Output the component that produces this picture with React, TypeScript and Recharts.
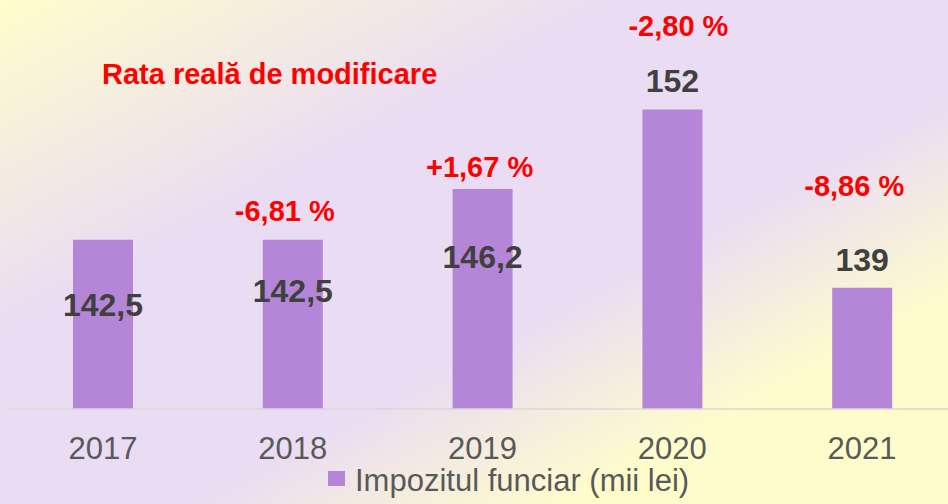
import React from "react";
import { BarChart, Bar, XAxis, YAxis, Legend, LabelList } from "recharts";

const years = ["2017", "2018", "2019", "2020", "2021"];
const values = [142.5, 142.5, 146.2, 152, 139];
const changes = ["", "-6,81 %", "+1,67 %", "-2,80 %", "-8,86 %"];
const seriesName = "Impozitul funciar (mii lei)";
const title = "Rata reală de modificare";

// hand placed labels, centre offset from bar top (px)
const valueShift = [65, 51, 67, -29, -28];
const changeShift = [0, -29.5, -22, -84.5, -102];
const changeDx = [0, -8, -3, 6, -8];

const data = years.map((year, i) => ({ year, value: values[i], change: changes[i] }));

const FONT = "'Liberation Sans', Arial, sans-serif";

const ValueLabel = (props: any) => {
  const { x, y, width, value, index } = props;
  const cy = Number(y) + valueShift[index];
  return (
    <text
      x={Number(x) + Number(width) / 2}
      y={cy + 11.5}
      textAnchor="middle"
      fontFamily={FONT}
      fontSize={32}
      fontWeight="bold"
      fill="#404040"
    >
      {String(value).replace(".", ",")}
    </text>
  );
};

const ChangeLabel = (props: any) => {
  const { x, y, width, value, index } = props;
  if (!value) return null;
  const cy = Number(y) + changeShift[index];
  return (
    <text
      x={Number(x) + Number(width) / 2 + changeDx[index]}
      y={cy + 10.4}
      textAnchor="middle"
      fontFamily={FONT}
      fontSize={29}
      fontWeight="bold"
      fill="#FF0000"
    >
      {value}
    </text>
  );
};

const YearTick = (props: any) => {
  const { x, y, payload } = props;
  return (
    <text x={x} y={y + 42} textAnchor="middle" fontFamily={FONT} fontSize={31} fill="#595959">
      {payload.value}
    </text>
  );
};

const LegendBox = () => (
  <div style={{ position: "relative", height: 40, fontFamily: FONT }}>
    <div style={{ position: "absolute", left: 328, top: 7, width: 17, height: 15, background: "#B586D8" }} />
    <span
      style={{ position: "absolute", left: 355, top: 1, fontSize: 31, lineHeight: "31px", color: "#595959", whiteSpace: "nowrap" }}
    >
      {seriesName}
    </span>
  </div>
);

export default function App() {
  return (
    <div
      style={{
        position: "absolute",
        left: 0,
        top: 0,
        width: 948,
        height: 504,
        overflow: "hidden",
        background:
          "linear-gradient(to bottom right, #FFFDCC 0%, #EADCF3 33%, #EADCF3 60%, #FFFCCC 80%, #FFFCCC 100%)",
      }}
    >
      <div
        style={{
          position: "absolute",
          left: 102,
          top: 59.5,
          fontFamily: FONT,
          fontSize: 29,
          lineHeight: "29px",
          fontWeight: "bold",
          color: "#FF0000",
          whiteSpace: "nowrap",
          zIndex: 2,
        }}
      >
        {title}
      </div>
      <BarChart width={957} height={504} data={data} margin={{ top: 0, right: 0, left: 8, bottom: 0 }}>
        <XAxis
          dataKey="year"
          height={55}
          tickLine={false}
          axisLine={{ stroke: "#D9D9D9", strokeWidth: 1.5 }}
          tick={<YearTick />}
          interval={0}
        />
        <YAxis hide domain={[130.15, 160]} />
        <Legend
          verticalAlign="bottom"
          height={40}
          content={<LegendBox />}
          wrapperStyle={{ left: 0, width: 948 }}
        />
        <Bar dataKey="value" name={seriesName} fill="#B586D8" barSize={60} isAnimationActive={false}>
          <LabelList dataKey="value" content={<ValueLabel />} />
          <LabelList dataKey="change" content={<ChangeLabel />} />
        </Bar>
      </BarChart>
    </div>
  );
}
